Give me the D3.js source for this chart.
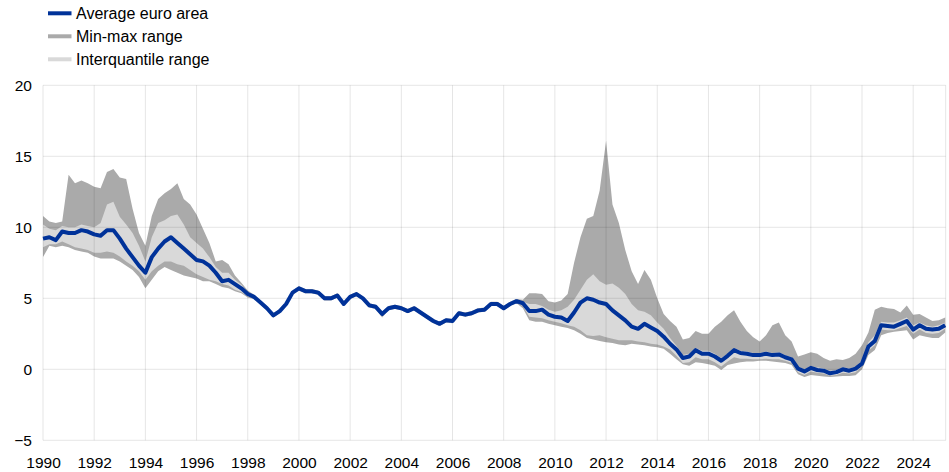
<!DOCTYPE html>
<html><head><meta charset="utf-8">
<script src="https://cdn.jsdelivr.net/npm/d3@7"></script>
<style>
body{margin:0;background:#fff}
svg{display:block}
text{font-family:"Liberation Sans",Arial,sans-serif;fill:#000}
</style>
</head><body>
<svg id="c" width="949" height="472"></svg>
<script>
// Quarterly observations starting 1990 Q1
const startYear = 1990, stepYears = 0.25;

const avgSeries = [
 9.2, 9.3, 9.1, 9.7,
 9.6, 9.6, 9.8, 9.7,
 9.5, 9.4, 9.8, 9.8,
 9.2, 8.5, 7.9, 7.3,
 6.8, 7.9, 8.5, 9.0,
 9.3, 8.9, 8.5, 8.1,
 7.7, 7.6, 7.3, 6.8,
 6.2, 6.3, 6.0, 5.7,
 5.3, 5.1, 4.7, 4.3,
 3.8, 4.1, 4.6, 5.4,
 5.7, 5.5, 5.5, 5.4,
 5.0, 5.0, 5.2, 4.6,
 5.1, 5.3, 5.0, 4.5,
 4.4, 3.9, 4.3, 4.4,
 4.3, 4.1, 4.3, 4.0,
 3.7, 3.4, 3.2, 3.45,
 3.4, 3.95, 3.85, 3.95,
 4.15, 4.2, 4.6, 4.6,
 4.3, 4.6, 4.8, 4.65,
 4.1, 4.1, 4.2, 3.85,
 3.7, 3.65, 3.4, 4.0,
 4.7, 5.0, 4.9, 4.7,
 4.6, 4.15, 3.8, 3.45,
 3.0, 2.85, 3.2, 2.95,
 2.7, 2.3, 1.8, 1.4,
 0.8, 0.9, 1.35, 1.1,
 1.1, 0.9, 0.6, 0.95,
 1.35, 1.15, 1.1, 1.0,
 1.0, 1.1, 1.0, 1.05,
 0.85, 0.7, 0.05, -0.15,
 0.1, -0.05, -0.1, -0.28,
 -0.2, 0.0, -0.1, 0.05,
 0.4, 1.6, 2.0, 3.1,
 3.05, 3.0, 3.2, 3.4,
 2.8, 3.1, 2.85, 2.8,
 2.85, 3.1
];

const maxSeries = [
 10.8, 10.4, 10.3, 10.4,
 13.7, 13.1, 13.3, 13.1,
 12.85, 12.75, 13.9, 14.1,
 13.5, 13.4, 11.3, 9.6,
 8.7, 10.8, 12.0, 12.4,
 12.7, 13.1, 12.0, 11.6,
 10.9, 9.9, 8.9, 7.6,
 7.7, 7.4, 6.6, 6.1,
 5.55, 5.25, 4.85, 4.45,
 3.95, 4.25, 4.75, 5.55,
 5.85, 5.65, 5.65, 5.55,
 5.15, 5.15, 5.35, 4.75,
 5.25, 5.45, 5.15, 4.65,
 4.55, 4.05, 4.45, 4.55,
 4.45, 4.25, 4.45, 4.15,
 3.85, 3.55, 3.35, 3.6,
 3.55, 4.1, 4.0, 4.1,
 4.3, 4.35, 4.75, 4.75,
 4.45, 4.75, 4.95, 4.9,
 5.35, 5.35, 5.3, 4.8,
 4.7, 4.85, 5.3, 7.5,
 9.3, 10.6, 10.8, 12.6,
 16.1, 11.6, 10.3, 8.4,
 6.9, 6.0, 7.0, 6.3,
 5.0, 3.9, 3.4, 3.0,
 2.1, 2.2, 2.7, 2.5,
 2.5, 3.0, 3.35, 3.8,
 4.15, 3.35, 2.7, 2.25,
 1.95, 2.4, 3.1, 3.3,
 2.4, 1.95, 0.9, 1.05,
 1.2, 1.1, 0.8, 0.6,
 0.7, 0.65, 0.8, 1.1,
 1.7, 2.6, 4.2, 4.4,
 4.3, 4.25, 4.0, 4.5,
 3.85, 3.9, 3.65, 3.4,
 3.45, 3.65
];

const minSeries = [
 7.9, 8.7, 8.6, 8.7,
 8.6, 8.4, 8.3, 8.2,
 7.95, 7.8, 7.8, 7.8,
 7.6, 7.3, 7.0, 6.5,
 5.7, 6.3, 6.9, 7.2,
 7.0, 6.8, 6.6, 6.5,
 6.4, 6.2, 6.2, 6.0,
 5.8, 5.7, 5.5, 5.35,
 5.05, 4.95, 4.55, 4.15,
 3.65, 3.95, 4.45, 5.25,
 5.55, 5.35, 5.35, 5.25,
 4.85, 4.85, 5.05, 4.45,
 4.95, 5.15, 4.85, 4.35,
 4.25, 3.65, 4.15, 4.25,
 4.15, 3.95, 4.15, 3.85,
 3.55, 3.25, 3.05, 3.3,
 3.25, 3.8, 3.7, 3.8,
 4.0, 4.05, 4.45, 4.45,
 4.15, 4.45, 4.65, 4.3,
 3.45, 3.35, 3.35, 3.2,
 3.1, 3.0, 2.9, 2.75,
 2.5, 2.2, 2.1, 2.0,
 1.9, 1.85, 1.75, 1.7,
 1.8, 1.75, 1.7, 1.6,
 1.55, 1.45, 1.1, 0.7,
 0.35, 0.25, 0.5, 0.45,
 0.35, 0.25, -0.05, 0.3,
 0.4, 0.5, 0.55, 0.55,
 0.6, 0.6, 0.55, 0.5,
 0.45, 0.3, -0.35, -0.55,
 -0.4, -0.45, -0.5, -0.55,
 -0.5, -0.47, -0.47, -0.42,
 0.0, 1.0, 1.36, 2.4,
 2.55, 2.65, 2.7, 2.75,
 2.1, 2.4, 2.3, 2.2,
 2.2, 2.6
];

const q1Series = [
 8.6, 8.8, 8.8, 9.0,
 8.8, 8.6, 8.5, 8.4,
 8.2, 8.2, 8.3, 8.2,
 7.95, 7.6, 7.3, 6.9,
 6.3, 6.9, 7.3, 7.6,
 7.6, 7.4, 7.3, 7.0,
 6.7, 6.5, 6.3, 6.2,
 6.0, 5.9, 5.6, 5.45,
 5.15, 5.0, 4.6, 4.2,
 3.7, 4.0, 4.5, 5.3,
 5.6, 5.4, 5.4, 5.3,
 4.9, 4.9, 5.1, 4.5,
 5.0, 5.2, 4.9, 4.4,
 4.3, 3.8, 4.2, 4.3,
 4.2, 4.0, 4.2, 3.9,
 3.6, 3.3, 3.1, 3.35,
 3.3, 3.85, 3.75, 3.85,
 4.05, 4.1, 4.5, 4.5,
 4.2, 4.5, 4.7, 4.45,
 3.7, 3.65, 3.6, 3.45,
 3.35, 3.25, 3.1, 3.0,
 2.75, 2.4, 2.35, 2.4,
 2.25, 2.15, 2.05, 2.05,
 2.05, 1.95, 1.9, 1.8,
 1.75, 1.6, 1.4, 0.95,
 0.45, 0.5, 0.85, 0.7,
 0.7, 0.5, 0.2, 0.55,
 0.85, 0.75, 0.75, 0.7,
 0.7, 0.75, 0.7, 0.7,
 0.6, 0.45, -0.2, -0.4,
 -0.15, -0.25, -0.3, -0.45,
 -0.4, -0.25, -0.3, -0.2,
 0.2, 1.3, 1.7, 2.8,
 2.75, 2.75, 2.9, 3.05,
 2.5, 2.8, 2.55, 2.5,
 2.55, 2.85
];

const q3Series = [
 10.2, 9.9, 9.8, 10.1,
 10.0, 10.0, 10.2, 10.1,
 10.0, 10.3, 11.6, 11.8,
 10.75, 10.2, 9.6, 8.7,
 7.6, 9.3, 10.3, 10.5,
 10.8, 10.9, 10.2, 9.3,
 8.9, 8.5, 7.9, 7.2,
 6.8, 6.8, 6.3, 5.95,
 5.45, 5.2, 4.8, 4.4,
 3.9, 4.2, 4.7, 5.5,
 5.8, 5.6, 5.6, 5.5,
 5.1, 5.1, 5.3, 4.7,
 5.2, 5.4, 5.1, 4.6,
 4.5, 4.0, 4.4, 4.5,
 4.4, 4.2, 4.4, 4.1,
 3.8, 3.5, 3.3, 3.55,
 3.5, 4.05, 3.95, 4.05,
 4.25, 4.3, 4.7, 4.7,
 4.4, 4.7, 4.9, 4.75,
 4.6, 4.6, 4.45, 4.2,
 4.05, 4.15, 4.4, 4.9,
 5.6, 6.3, 6.7, 6.2,
 5.95, 6.05, 5.75, 5.3,
 4.6, 4.15, 4.05, 3.8,
 3.3, 2.85, 2.2, 1.65,
 1.0, 1.1, 1.5, 1.3,
 1.3, 1.1, 0.8, 1.1,
 1.5, 1.3, 1.25, 1.15,
 1.15, 1.25, 1.15, 1.2,
 1.0, 0.85, 0.2, 0.0,
 0.2, 0.15, 0.05, -0.1,
 -0.05, 0.15, 0.05, 0.2,
 0.6, 1.9, 2.4, 3.35,
 3.3, 3.3, 3.45, 3.65,
 3.1, 3.3, 3.1, 3.0,
 3.1, 3.3
];

const xTickYears = [1990,1992,1994,1996,1998,2000,2002,2004,2006,2008,2010,2012,2014,2016,2018,2020,2022,2024];
const yTickValues = [-5,0,5,10,15,20];
const legendLabels = ["Average euro area","Min-max range","Interquantile range"];

const colors = {avg:"#003299", minmax:"#aaaaaa", iqr:"#d9d9d9"};

const dates = avgSeries.map((_, i) => startYear + i * stepYears);
const data = dates.map((t, i) => ({t, avg: avgSeries[i], min: minSeries[i], max: maxSeries[i], q1: q1Series[i], q3: q3Series[i]}));

const svg = d3.select("#c");
const x = d3.scaleLinear().domain([1990, 2025.27]).range([43, 945.7]);
const y = d3.scaleLinear().domain([-5, 20]).range([440.3, 85.3]);

// areas
svg.append("path").datum(data)
  .attr("fill", colors.minmax)
  .attr("d", d3.area().x(d => x(d.t)).y0(d => y(d.min)).y1(d => y(d.max)));
svg.append("path").datum(data)
  .attr("fill", colors.iqr)
  .attr("d", d3.area().x(d => x(d.t)).y0(d => y(d.q1)).y1(d => y(d.q3)));

// grid (drawn over areas, translucent)
const grid = svg.append("g").attr("stroke", "rgba(0,0,0,0.1)").attr("stroke-width", 1);
grid.selectAll("line.h").data(yTickValues).join("line")
  .attr("x1", x(1990)).attr("x2", x.range()[1])
  .attr("y1", d => y(d)).attr("y2", d => y(d));
grid.selectAll("line.v").data(xTickYears.concat([x.domain()[1]])).join("line")
  .attr("x1", d => x(d)).attr("x2", d => x(d))
  .attr("y1", y(20)).attr("y2", y(-5));

// average line
svg.append("path").datum(data)
  .attr("fill", "none")
  .attr("stroke", colors.avg)
  .attr("stroke-width", 4)
  .attr("stroke-linejoin", "round")
  .attr("d", d3.line().x(d => x(d.t)).y(d => y(d.avg)));

// axes
const yAxis = svg.append("g").attr("transform", `translate(${x(1990)},0)`)
  .call(d3.axisLeft(y).tickValues(yTickValues).tickSize(0).tickPadding(11));
const xAxis = svg.append("g").attr("transform", `translate(0,${y(-5)})`)
  .call(d3.axisBottom(x).tickValues(xTickYears).tickFormat(d3.format("d")).tickSize(0).tickPadding(16.5));
[yAxis, xAxis].forEach(a => {
  a.select(".domain").remove();
  a.selectAll("text").attr("font-size", "15.5px").attr("fill", "#000")
   .attr("font-family", '"Liberation Sans", Arial, sans-serif');
});

// legend
const legendColors = [colors.avg, colors.minmax, colors.iqr];
const lg = svg.append("g");
legendLabels.forEach((lab, i) => {
  const yy = 13.3 + i * 23;
  lg.append("line").attr("x1", 48).attr("x2", 71.5).attr("y1", yy).attr("y2", yy)
    .attr("stroke", legendColors[i]).attr("stroke-width", 4);
  lg.append("text").attr("x", 76).attr("y", yy).attr("dy", "0.35em")
    .attr("font-size", "16px").text(lab);
});
</script>
</body></html>
